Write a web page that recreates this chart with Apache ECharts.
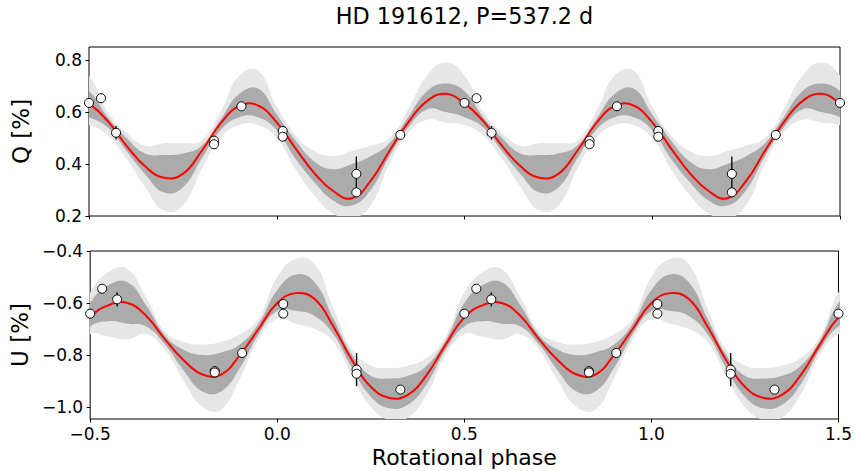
<!DOCTYPE html>
<html><head><meta charset="utf-8">
<script src="https://cdn.jsdelivr.net/npm/echarts@6/dist/echarts.min.js"></script>
<style>html,body{margin:0;padding:0;background:#fff}#c{width:855px;height:471px}</style>
</head><body><div id="c"></div>
<script>
// ---- data (one rotational cycle, phase 0 .. 0.95) ----
const phaseGrid = [0.00,0.05,0.10,0.15,0.20,0.25,0.30,0.35,0.40,0.45,0.50,0.55,0.60,0.65,0.70,0.75,0.80,0.85,0.90,0.95];
const qModel      = [0.560,0.460,0.365,0.296,0.268,0.335,0.450,0.560,0.642,0.670,0.633,0.565,0.470,0.390,0.347,0.362,0.450,0.555,0.623,0.625];
const qOuterUpper = [0.62,0.51,0.45,0.43,0.45,0.47,0.50,0.61,0.74,0.79,0.74,0.60,0.52,0.47,0.48,0.48,0.49,0.60,0.74,0.76];
const qInnerUpper = [0.59,0.49,0.41,0.38,0.40,0.43,0.48,0.58,0.68,0.71,0.68,0.58,0.50,0.44,0.435,0.44,0.47,0.57,0.67,0.69];
const qInnerLower = [0.53,0.42,0.33,0.26,0.24,0.30,0.43,0.54,0.61,0.60,0.58,0.54,0.45,0.36,0.29,0.31,0.42,0.53,0.58,0.58];
const qOuterLower = [0.50,0.38,0.28,0.21,0.19,0.24,0.40,0.52,0.57,0.56,0.55,0.51,0.42,0.31,0.22,0.24,0.38,0.50,0.55,0.55];

const uModel      = [-0.600,-0.562,-0.585,-0.690,-0.820,-0.922,-0.965,-0.952,-0.875,-0.760,-0.655,-0.608,-0.600,-0.650,-0.740,-0.820,-0.875,-0.875,-0.800,-0.700];
const uOuterUpper = [-0.50,-0.43,-0.45,-0.62,-0.78,-0.84,-0.85,-0.84,-0.81,-0.73,-0.56,-0.48,-0.47,-0.58,-0.71,-0.75,-0.76,-0.75,-0.72,-0.66];
const uInnerUpper = [-0.55,-0.49,-0.52,-0.66,-0.80,-0.88,-0.89,-0.88,-0.84,-0.745,-0.60,-0.53,-0.52,-0.61,-0.725,-0.78,-0.80,-0.79,-0.76,-0.68];
const uInnerLower = [-0.63,-0.63,-0.65,-0.72,-0.85,-0.96,-1.005,-0.99,-0.91,-0.78,-0.69,-0.67,-0.68,-0.69,-0.76,-0.86,-0.94,-0.94,-0.85,-0.72];
const uOuterLower = [-0.66,-0.68,-0.70,-0.75,-0.88,-1.00,-1.05,-1.04,-0.95,-0.80,-0.72,-0.73,-0.74,-0.72,-0.78,-0.90,-1.00,-1.01,-0.89,-0.74];

const obsPhase  = [0.016,0.016,0.212,0.212,0.329,0.500,0.532,0.572,0.833,0.833,0.906];
const qObsValue = [0.527,0.505,0.362,0.291,0.512,0.635,0.653,0.520,0.490,0.476,0.622];
const qObsError = [0.010,0.010,0.067,0.010,0.010,0.010,0.010,0.026,0.010,0.010,0.010];
const uObsValue = [-0.604,-0.641,-0.856,-0.872,-0.933,-0.641,-0.545,-0.586,-0.862,-0.867,-0.792];
const uObsError = [0.010,0.010,0.064,0.010,0.010,0.010,0.010,0.027,0.010,0.010,0.010];

const xTicks = [-0.5,0,0.5,1,1.5];
const xTickLabels = ['\u22120.5','0.0','0.5','1.0','1.5'];
const qTicks = [0.2,0.4,0.6,0.8];
const qTickLabels = ['0.2','0.4','0.6','0.8'];
const uTicks = [-1.0,-0.8,-0.6,-0.4];
const uTickLabels = ['\u22121.0','\u22120.8','\u22120.6','\u22120.4'];

const titleText = 'HD 191612, P=537.2 d';
const xName = 'Rotational phase';
const qName = 'Q [%]';
const uName = 'U [%]';

// ---- build (phase-folded; curves repeated each cycle, clipped to -0.5 .. 1.5) ----
const FONT = 'DejaVu Sans';
const N = phaseGrid.length;
function foldedPairs(vals, lo, hi){ const out=[]; for(let k=-1;k<=2;k++) for(let i=0;i<N;i++){const x=+(phaseGrid[i]+k).toFixed(4); if(x>=lo-1e-9&&x<=hi+1e-9) out.push([x,vals[i]]);} return out; }
function obs(vals, errs){ const out=[]; for(let k=-1;k<=1;k++) for(let i=0;i<obsPhase.length;i++){const x=+(obsPhase[i]+k).toFixed(4); if(x>=-0.5-1e-9&&x<=1.5+1e-9) out.push([x,vals[i],errs[i]]);} return out; }
function lab(ticks, labels){ return v=>{const i=ticks.findIndex(t=>Math.abs(t-v)<1e-6); return i>=0?labels[i]:'';}; }

function band(gi, lo, hi, color){
  const L=foldedPairs(lo,-0.65,1.65), H=foldedPairs(hi,-0.65,1.65);
  return {type:'custom', xAxisIndex:gi, yAxisIndex:gi, silent:true, clip:true, z:1,
    data:[[H[0][0],H[0][1]]], encode:{x:0,y:1},
    renderItem:(params,api)=>{
      const up=H.map(p=>api.coord(p)), dn=L.map(p=>api.coord(p)).reverse();
      return {type:'polygon', shape:{points:up.concat(dn), smooth:0.45}, style:{fill:color}};
    }};
}
function modelSeries(gi, vals){
  const P=foldedPairs(vals,-0.65,1.65);
  return {type:'custom', xAxisIndex:gi, yAxisIndex:gi, silent:true, clip:true, z:3,
    data:[[P[0][0],P[0][1]]], encode:{x:0,y:1},
    renderItem:(params,api)=>({type:'polyline', shape:{points:P.map(p=>api.coord(p)), smooth:0.45},
      style:{stroke:'#ff0000', lineWidth:2, fill:null}})};
}
function errSeries(gi, data){
  return {type:'custom', xAxisIndex:gi, yAxisIndex:gi, silent:true, z:4, data:data, encode:{x:0,y:1},
    renderItem:(params,api)=>{
      const x=api.value(0), y=api.value(1), e=api.value(2);
      const a=api.coord([x,y-e]), b=api.coord([x,y+e]);
      return {type:'line', shape:{x1:a[0],y1:a[1],x2:b[0],y2:b[1]}, style:{stroke:'#000', lineWidth:1.3}};
    }};
}
function ptsSeries(gi, data){
  return {type:'scatter', xAxisIndex:gi, yAxisIndex:gi, data:data.map(d=>[d[0],d[1]]), symbolSize:9, z:5, silent:true,
    itemStyle:{color:'#ffffff', borderColor:'#000', borderWidth:1, opacity:1}};
}

const tickStyle = {show:true, inside:false, length:3.5, lineStyle:{color:'#000', width:1}};
function xAxis(gi, showLabels){
  return {type:'value', gridIndex:gi, min:-0.5, max:1.5,
    axisLine:{show:false, onZero:false}, splitLine:{show:false},
    axisTick:Object.assign({customValues:xTicks}, tickStyle),
    axisLabel:{show:showLabels, customValues:xTicks, formatter:lab(xTicks,xTickLabels), fontFamily:FONT, fontSize:17, color:'#000', margin:6},
    name: showLabels? xName : '', nameLocation:'middle', nameGap:27,
    nameTextStyle:{fontFamily:FONT, fontSize:22, color:'#000'}};
}
function yAxis(gi, min, max, ticks, labels, name){
  return {type:'value', gridIndex:gi, min:min, max:max,
    axisLine:{show:false, onZero:false}, splitLine:{show:false},
    axisTick:Object.assign({customValues:ticks}, tickStyle),
    axisLabel:{customValues:ticks, formatter:lab(ticks,labels), fontFamily:FONT, fontSize:17, color:'#000', margin:7},
    name:name, nameLocation:'middle', nameGap:57,
    nameTextStyle:{fontFamily:FONT, fontSize:23, color:'#000'}};
}

const qObs = obs(qObsValue, qObsError);
const uObs = obs(uObsValue, uObsError);

const chart = echarts.init(document.getElementById('c'), null, {renderer:'svg'});
chart.setOption({
  animation:false,
  backgroundColor:'#fff',
  graphic:[{type:'text', x:464.5, y:16, style:{text:titleText, textAlign:'center', textVerticalAlign:'middle', fontFamily:FONT, fontSize:22.3, fill:'#000'}}],
  grid:[
    {left:89, width:751, top:47, height:169, show:true, borderColor:'#000', borderWidth:1, backgroundColor:'transparent'},
    {left:89, width:751, top:251, height:168, show:true, borderColor:'#000', borderWidth:1, backgroundColor:'transparent'}
  ],
  xAxis:[xAxis(0,false), xAxis(1,true)],
  yAxis:[yAxis(0,0.2,0.85,qTicks,qTickLabels,qName), yAxis(1,-1.046,-0.4,uTicks,uTickLabels,uName)],
  series:[
    band(0,qOuterLower,qOuterUpper,'#e6e6e6'),
    band(0,qInnerLower,qInnerUpper,'#ababab'),
    modelSeries(0,qModel),
    errSeries(0,qObs),
    ptsSeries(0,qObs),
    band(1,uOuterLower,uOuterUpper,'#e6e6e6'),
    band(1,uInnerLower,uInnerUpper,'#ababab'),
    modelSeries(1,uModel),
    errSeries(1,uObs),
    ptsSeries(1,uObs)
  ]
});
</script></body></html>
